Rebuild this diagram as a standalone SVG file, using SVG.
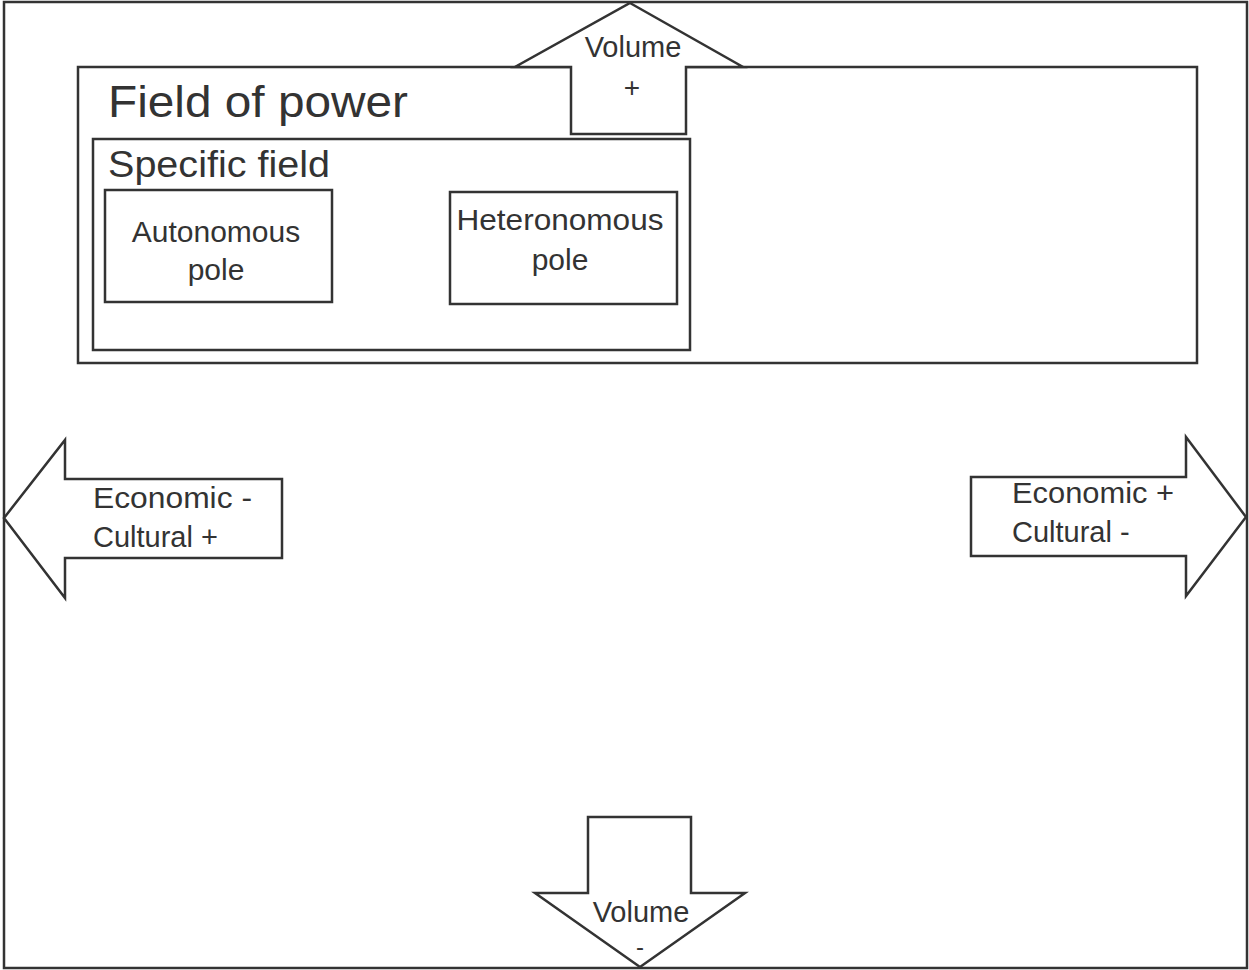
<svg xmlns="http://www.w3.org/2000/svg" width="1249" height="970" viewBox="0 0 1249 970">
<style>
.ln{fill:#fff;stroke:#333;stroke-width:2.5;stroke-linejoin:miter}
.t{font-family:"Liberation Sans",Arial,sans-serif;fill:#333}
.m{text-anchor:middle}
</style>
<rect x="0" y="0" width="1249" height="970" fill="#fff"/>
<g id="frame"><rect class="ln" x="4" y="2" width="1243" height="966"/></g>
<g id="field-of-power">
<rect class="ln" x="78" y="67" width="1119" height="296"/>
<text class="t" x="108" y="117" font-size="44" textLength="300" lengthAdjust="spacingAndGlyphs">Field of power</text>
</g>
<g id="connectors">
<g id="arrow-up">
<polygon class="ln" points="630,3 743,67 686,67 686,134 571,134 571,67 515,67"/>
<text class="t m" x="633" y="57" font-size="29">Volume</text>
<text class="t m" x="632" y="97" font-size="28">+</text>
</g>
<g id="arrow-left">
<polygon class="ln" points="4,518 65,440 65,479 282,479 282,558 65,558 65,598"/>
<text class="t" x="93" y="508" font-size="29" textLength="159" lengthAdjust="spacingAndGlyphs">Economic -</text>
<text class="t" x="93" y="547" font-size="29">Cultural +</text>
</g>
<g id="arrow-right">
<polygon class="ln" points="1246,517 1186,437 1186,477 971,477 971,556 1186,556 1186,596"/>
<text class="t" x="1012" y="503" font-size="29" textLength="162" lengthAdjust="spacingAndGlyphs">Economic +</text>
<text class="t" x="1012" y="542" font-size="29">Cultural -</text>
</g>
<g id="arrow-down">
<polygon class="ln" points="588,817 691,817 691,893 745,893 640,967 535,893 588,893"/>
<text class="t m" x="641" y="922" font-size="29">Volume</text>
<text class="t m" x="640" y="955" font-size="24">-</text>
</g>
</g>
<g id="specific-field">
<rect class="ln" x="93" y="139" width="597" height="211"/>
<text class="t" x="108" y="177" font-size="37" textLength="222" lengthAdjust="spacingAndGlyphs">Specific field</text>
</g>
<g id="autonomous-pole">
<rect class="ln" x="105" y="190" width="227" height="112"/>
<text class="t m" x="216" y="242" font-size="30">Autonomous</text>
<text class="t m" x="216" y="280" font-size="30">pole</text>
</g>
<g id="heteronomous-pole">
<rect class="ln" x="450" y="192" width="227" height="112"/>
<text class="t m" x="560" y="230" font-size="30" textLength="207" lengthAdjust="spacingAndGlyphs">Heteronomous</text>
<text class="t m" x="560" y="270" font-size="30">pole</text>
</g>
</svg>
